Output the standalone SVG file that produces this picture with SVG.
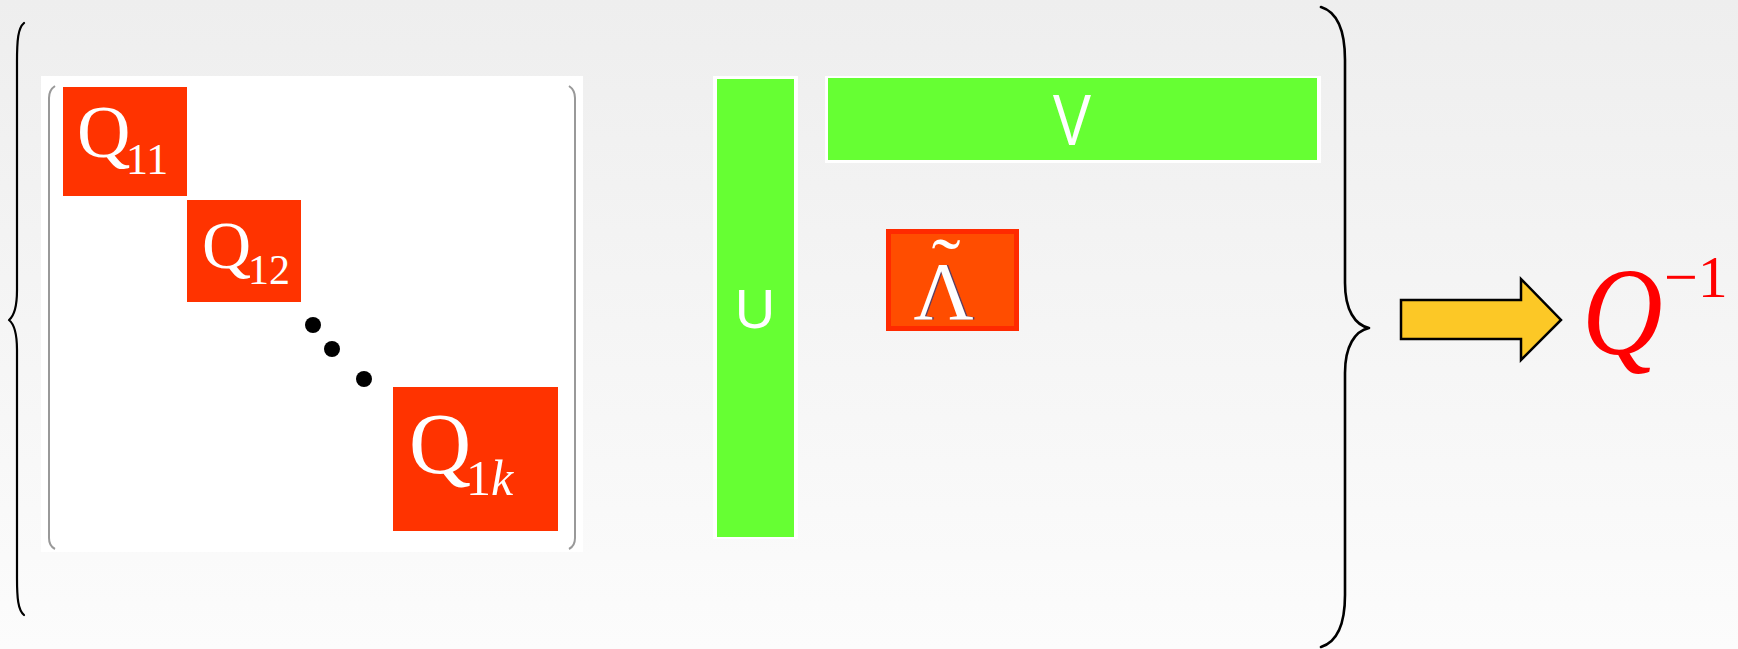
<svg xmlns="http://www.w3.org/2000/svg" width="1738" height="649" viewBox="0 0 1738 649">
<defs>
<linearGradient id="bg" x1="0" y1="0" x2="0" y2="1">
<stop offset="0" stop-color="#EEEEEE"/>
<stop offset="1" stop-color="#FCFCFC"/>
</linearGradient>
</defs>
<style>
.brace{fill:none;stroke:#000;stroke-linecap:round;stroke-linejoin:round}
.qbox{fill:#FF3300}
.green{fill:#66FF33}
.wb{fill:#FFFFFF}
.serif{font-family:"Liberation Serif","Times New Roman",serif;fill:#FFFFFF}
.sans{font-family:"Liberation Sans",Arial,sans-serif;fill:#FFFFFF}
.bracket{fill:none;stroke:#999999;stroke-width:2}
.dot{fill:#000}
.red{font-family:"Liberation Serif","Times New Roman",serif;fill:#FF0000}
</style>
<rect x="0" y="0" width="1738" height="649" fill="url(#bg)"/>

<g id="left-brace">
<path class="brace" stroke-width="2.2" d="M24,23 C18,28 17,40 17,62 L17,290 C17,308 14,316 9,320 C14,324 17,332 17,350 L17,578 C17,598 18,610 24,615"/>
</g>

<g id="block-diagonal-matrix">
<rect class="wb" x="41" y="76" width="542" height="476"/>
<path class="bracket" d="M55,86 Q49,90 49,98 L49,538 Q49,546 55,549"/>
<path class="bracket" d="M569,86 Q575,90 575,98 L575,538 Q575,546 569,549"/>
</g>

<g id="Q11">
<rect class="qbox" x="63" y="87" width="124" height="109"/>
<text class="serif" x="77" y="157" font-size="74">Q</text>
<text class="serif" x="126" y="174" font-size="44">11</text>
</g>

<g id="Q12">
<rect class="qbox" x="187" y="200" width="114" height="102"/>
<text class="serif" x="202" y="268" font-size="68">Q</text>
<text class="serif" x="248" y="284" font-size="42">12</text>
</g>

<g id="dots">
<circle class="dot" cx="313" cy="325" r="8"/>
<circle class="dot" cx="332" cy="349" r="8"/>
<circle class="dot" cx="364" cy="379" r="8"/>
</g>

<g id="Q1k">
<rect class="qbox" x="393" y="387" width="165" height="144"/>
<text class="serif" x="409" y="473" font-size="86">Q</text>
<text class="serif" x="466" y="495" font-size="50">1<tspan font-style="italic">k</tspan></text>
</g>

<g id="U">
<rect class="wb" x="713" y="76" width="85" height="463"/>
<rect class="green" x="717" y="79" width="77" height="458"/>
<text class="sans" x="755" y="328" font-size="56" text-anchor="middle">U</text>
</g>

<g id="V">
<rect class="wb" x="825" y="76" width="496" height="87"/>
<rect class="green" x="828" y="78" width="489" height="82"/>
<text class="sans" transform="translate(1072,145) scale(0.8,1)" font-size="72" text-anchor="middle">V</text>
</g>

<g id="Lambda">
<rect x="888.5" y="231.5" width="128" height="97" fill="#FF4D00" stroke="#FF2A00" stroke-width="5"/>
<text x="945" y="319" font-size="83" text-anchor="middle" font-family="Liberation Serif,serif" fill="#1A3A8A" opacity="0.7">Λ</text>
<text class="serif" x="943.5" y="319" font-size="83" text-anchor="middle">Λ</text>
<text class="serif" transform="translate(946,291) scale(1.15,1)" font-size="76" text-anchor="middle">˜</text>
</g>

<g id="right-brace">
<path class="brace" stroke-width="2.6" d="M1321,7 C1337,12 1345,30 1345,60 L1345,283 C1345,310 1355,325 1369,328 C1355,331 1345,346 1345,373 L1345,595 C1345,625 1337,642 1321,647"/>
</g>

<g id="connectors">
<polygon points="1401,300 1521,300 1521,279 1561,320 1521,360 1521,339 1401,339" fill="#FCC826" stroke="#000" stroke-width="2.5" stroke-linejoin="miter"/>
</g>

<g id="Qinv">
<text class="red" transform="translate(1582,354) scale(0.9,1)" font-size="124" font-style="italic">Q</text>
<text class="red" x="1664" y="297" font-size="60">−1</text>
</g>
</svg>
